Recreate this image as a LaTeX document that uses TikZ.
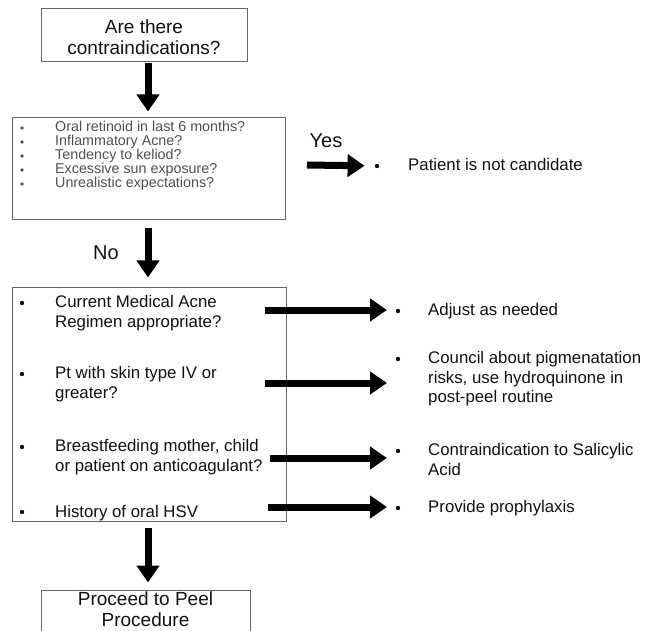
\documentclass[tikz,border=0pt]{standalone}
\usepackage{fontspec}
\setmainfont{Liberation Sans}
\usetikzlibrary{arrows.meta}
\definecolor{boxline}{HTML}{666666}
\definecolor{graytext}{HTML}{505050}
\definecolor{darktext}{HTML}{111111}
\tikzset{
  box/.style={draw=boxline, line width=1pt, inner sep=0pt, fill=white},
  bigarrow/.style={line width=7pt, -{Triangle[width=22pt,length=17pt]}, black},
  bigtext/.style={font=\fontsize{19}{21}\selectfont, align=center, text=darktext, inner sep=0pt},
  endtext/.style={font=\fontsize{19}{20.5}\selectfont, align=center, text=darktext, inner sep=0pt},
  smallitem/.style={font=\fontsize{14.3}{14.2}\selectfont, text=graytext, anchor=base west, inner sep=0pt},
  item/.style={font=\fontsize{16.8}{19.5}\selectfont, text=darktext, anchor=north west, inner sep=0pt, align=left},
  itemone/.style={font=\fontsize{16.8}{19.5}\selectfont, text=darktext, anchor=base west, inner sep=0pt},
  yesno/.style={font=\fontsize{20}{22}\selectfont, text=darktext, inner sep=0pt},
  dot/.style={circle, fill=darktext, inner sep=0pt, minimum size=4.4pt},
  graydot/.style={circle, fill=graytext, inner sep=0pt, minimum size=3.8pt}
}
\begin{document}
\begin{tikzpicture}[x=1pt,y=-1pt]
\useasboundingbox (0,0) rectangle (659,631);
\clip (0,0) rectangle (659,631);
\coordinate (axis) at (148,0);

% top box
\node[box, minimum width=206pt, minimum height=53pt] (top) at (144,35.5) {};
\node[bigtext] (toptext) at (144,39.8) {\strut Are there\\\strut contraindications?};

% contraindications box
\node[box, minimum width=273pt, minimum height=102pt] (b2) at (148.5,169) {};
\node[graydot] (d1) at (22,128) {};
\node[graydot] (d2) at (22,142) {};
\node[graydot] (d3) at (22,156) {};
\node[graydot] (d4) at (22,170) {};
\node[graydot] (d5) at (22,184) {};
\node[smallitem] (c1) at (55,131.6) {Oral retinoid in last 6 months?};
\node[smallitem] (c2) at (55,145.6) {Inflammatory Acne?};
\node[smallitem] (c3) at (55,159.6) {Tendency to keliod?};
\node[smallitem] (c4) at (55,173.6) {Excessive sun exposure?};
\node[smallitem] (c5) at (55,187.6) {Unrealistic expectations?};

% yes branch
\node[yesno] (yes) at (326,141) {Yes};
\coordinate (ys) at (307,165);
\node[dot] (pbul) at (377,166) {};
\node[itemone] (pt) at (408,171) {Patient is not candidate};
\draw[bigarrow, shorten >=10pt] (ys) -- (pbul);

% no branch
\node[yesno] (no) at (106,253) {No};

% checks box
\node[box, minimum width=274pt, minimum height=233pt] (b3) at (149,404.5) {};
\draw[bigarrow, shorten <=8pt, shorten >=10pt] (b2.south -| axis) -- (b3.north -| axis);

\node[dot] (q1b) at (22,303) {};
\node[dot] (q2b) at (22,374) {};
\node[dot] (q3b) at (22,447) {};
\node[dot] (q4b) at (22,512) {};
\node[item] (q1) at (55,294) {\strut Current Medical Acne\\Regimen appropriate?};
\node[item] (q2) at (55,365) {\strut Pt with skin type IV or\\greater?};
\node[item] (q3) at (55,438) {\strut Breastfeeding mother, child\\or patient on anticoagulant?};
\node[itemone] (q4) at (55,517.5) {History of oral HSV};

% answers
\node[dot] (a1b) at (398,311) {};
\node[dot] (a2b) at (398,359) {};
\node[dot] (a3b) at (398,451) {};
\node[dot] (a4b) at (398,508) {};
\node[itemone] (a1) at (428,315.5) {Adjust as needed};
\node[item] (a2) at (428,350) {\strut Council about pigmenatation\\risks, use hydroquinone in\\post-peel routine};
\node[item] (a3) at (428,442) {\strut Contraindication to Salicylic\\Acid};
\node[itemone] (a4) at (428,512.5) {Provide prophylaxis};

\coordinate (s1) at (265,310);
\coordinate (s2) at (265,383);
\coordinate (s3) at (270,458);
\coordinate (s4) at (268,507);
\draw[bigarrow, shorten >=11pt] (s1) -- (s1 -| a1b);
\draw[bigarrow, shorten >=11pt] (s2) -- (s2 -| a2b);
\draw[bigarrow, shorten >=11pt] (s3) -- (s3 -| a3b);
\draw[bigarrow, shorten >=11pt] (s4) -- (s4 -| a4b);

% final box
\node[box, minimum width=209pt, minimum height=70pt] (b4) at (145.5,625) {};
\node[endtext] (endt) at (145.5,609.1) {\strut Proceed to Peel\\Procedure};
\draw[bigarrow, shorten <=6pt, shorten >=7pt] (b3.south -| axis) -- (b4.north -| axis);

% first arrow
\draw[bigarrow, shorten <=1pt, shorten >=6pt] (top.south -| axis) -- (b2.north -| axis);
\end{tikzpicture}
\end{document}
